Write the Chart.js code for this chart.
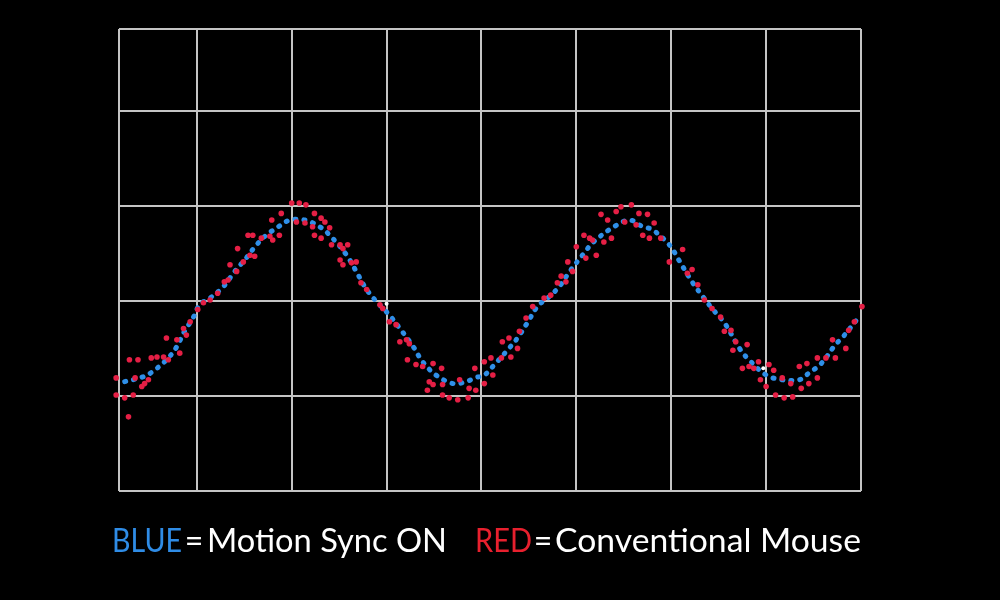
<!DOCTYPE html>
<html>
<head>
<meta charset="utf-8">
<script src="https://cdn.jsdelivr.net/npm/chart.js@4/dist/chart.umd.min.js"></script>
<style>
  html, body { margin: 0; padding: 0; background: #000; }
  #wrap { position: relative; width: 1000px; height: 600px; }
  .lg {
    position: absolute; top: 524px; height: 32px;
    font-family: 'Lato', sans-serif; font-size: 32px; line-height: 32px; color: #fff;
    white-space: nowrap; transform-origin: 0 0;
  }
  .lg.blue { color: #2f8ce6; }
  .lg.red { color: #e8202e; }
</style>
</head>
<body>
<div id="wrap">
  <canvas id="chart" width="1000" height="600"></canvas>
  <span class="lg blue" data-x0="112" data-x1="182">BLUE</span>
  <span class="lg eq" data-x0="188" data-x1="200">=</span>
  <span class="lg" data-x0="207" data-x1="447">Motion Sync ON</span>
  <span class="lg red" data-x0="475" data-x1="532">RED</span>
  <span class="lg eq" data-x0="538" data-x1="548">=</span>
  <span class="lg" data-x0="555" data-x1="861">Conventional Mouse</span>
</div>
<script>
// grid positions (one unit per grid cell; the plot starts/ends on partial cells)
const xGrid = [-0.82, 0, 1, 2, 3, 4, 5, 6, 7];
const yGrid = [0, 1, 2, 3, 4, 4.86];

// blue trace - Motion Sync ON
const blueX = [-0.76, -0.57, -0.46, -0.30, -0.21, -0.13, -0.04, 0.03, 0.14, 0.28, 0.40, 0.52, 0.63, 0.73, 0.86, 0.98,
  1.14, 1.31, 1.43, 1.58, 1.68, 1.77, 1.86, 2.03, 2.14, 2.28, 2.38, 2.52, 2.70, 2.84, 2.93, 3.03, 3.12, 3.29, 3.38,
  3.49, 3.59, 3.72, 3.82, 3.93, 4.08, 4.17, 4.38, 4.56, 4.70, 4.80, 4.98, 5.08, 5.22, 5.33, 5.43, 5.56, 5.72, 5.80,
  6.00, 6.17, 6.35, 6.45, 6.58, 6.73, 6.80, 6.98];
const blueY = [1.15, 1.20, 1.26, 1.40, 1.52, 1.68, 1.82, 1.96, 2.03, 2.15, 2.31, 2.45, 2.59, 2.69, 2.78, 2.85,
  2.85, 2.77, 2.66, 2.48, 2.31, 2.15, 2.03, 1.85, 1.71, 1.52, 1.36, 1.22, 1.13, 1.15, 1.19, 1.22, 1.31, 1.50, 1.61,
  1.78, 1.94, 2.05, 2.15, 2.31, 2.50, 2.61, 2.77, 2.85, 2.78, 2.75, 2.59, 2.43, 2.20, 2.05, 1.92, 1.77, 1.50, 1.40,
  1.22, 1.17, 1.17, 1.24, 1.34, 1.54, 1.61, 1.83];

// red samples - Conventional Mouse
const redX = [-0.85, -0.85, -0.76, -0.72, -0.67, -0.71, -0.62, -0.65, -0.58, -0.55, -0.51, -0.48, -0.42, -0.35, -0.30,
  -0.32, -0.21, -0.18, -0.11, -0.14, -0.07, 0.01, 0.07, 0.14, 0.22, 0.29, 0.33, 0.35, 0.42, 0.43, 0.49, 0.56, 0.61,
  0.54, 0.59, 0.68, 0.77, 0.80, 0.87, 0.79, 0.89, 1.00, 1.05, 1.08, 1.15, 1.14, 1.24, 1.31, 1.35, 1.22, 1.24, 1.31,
  1.40, 1.42, 1.51, 1.59, 1.54, 1.51, 1.54, 1.63, 1.68, 1.73, 1.79, 1.93, 1.96, 2.03, 2.10, 2.14, 2.21, 2.24, 2.22,
  2.31, 2.38, 2.49, 2.58, 2.45, 2.49, 2.43, 2.59, 2.59, 2.66, 2.75, 2.86, 2.77, 2.87, 2.93, 2.94,
  3.03, 3.03, 3.12, 3.10, 3.21, 3.22, 3.29, 3.31, 3.38, 3.40, 3.47, 3.54, 3.66, 3.73, 3.80, 3.84, 3.89, 3.91, 3.96,
  4.00, 4.08, 4.14, 4.10, 4.21, 4.17, 4.26, 4.33, 4.37, 4.42, 4.47, 4.58, 4.51, 4.63, 4.66, 4.75, 4.70, 4.77, 4.82,
  4.89, 4.98, 4.29, 5.12, 5.17, 5.22, 5.28, 5.35, 5.43, 5.52, 5.56, 5.63, 5.68, 5.65, 5.80, 5.75, 5.82, 5.87, 5.92,
  6.03, 6.08, 5.94, 6.00, 6.10, 6.19, 6.28, 6.17, 6.26, 6.37, 6.35, 6.43, 6.45, 6.54, 6.54, 6.63, 6.70, 6.73, 6.84,
  6.87, 6.93, 7.01, 7.07];
const redY = [1.19, 1.01, 0.98, 0.78, 1.01, 1.38, 1.38, 1.19, 1.10, 1.13, 1.17, 1.40, 1.41, 1.41, 1.38,
  1.61, 1.59, 1.45, 1.64, 1.71, 1.78, 1.91, 1.98, 2.01, 2.08, 2.20, 2.22, 2.38, 2.31, 2.55, 2.41, 2.48, 2.47,
  2.69, 2.69, 2.66, 2.68, 2.64, 2.69, 2.85, 2.92, 3.03, 2.83, 3.03, 3.01, 2.82, 2.92, 2.87, 2.83, 2.78, 2.69, 2.66,
  2.77, 2.59, 2.59, 2.59, 2.55, 2.43, 2.38, 2.40, 2.41, 2.19, 2.12, 1.96, 1.92, 1.78, 1.75, 1.57, 1.59, 1.55, 1.38,
  1.33, 1.31, 1.34, 1.29, 1.15, 1.12, 1.06, 1.12, 1.01, 0.98, 0.96, 0.98, 1.17, 1.08, 1.29, 1.06,
  1.36, 1.13, 1.22, 1.40, 1.40, 1.57, 1.61, 1.41, 1.50, 1.68, 1.82, 1.94, 2.03, 2.06, 2.19, 2.26, 2.20, 2.41, 2.31,
  2.57, 2.69, 2.66, 2.45, 2.48, 2.64, 2.91, 2.85, 2.66, 2.94, 2.99, 3.01, 2.83, 2.80, 2.92, 2.91, 2.69, 2.66, 2.82,
  2.66, 2.41, 2.62, 2.54, 2.29, 2.33, 2.17, 2.01, 1.92, 1.83, 1.68, 1.69, 1.57, 1.48, 1.54, 1.29, 1.31, 1.29, 1.36,
  1.33, 1.27, 1.17, 1.10, 1.01, 0.98, 0.99, 1.19, 1.13, 1.08, 1.31, 1.34, 1.13, 1.40, 1.19, 1.40, 1.59, 1.40, 1.50,
  1.69, 1.78, 1.94, 1.99];

// white cursor specks
const cursorX = [5.97, 2.00];
const cursorY = [1.29, 1.97];

const pts = (xs, ys) => xs.map((x, i) => ({ x: x, y: ys[i] }));

const gridStyle = { color: '#c4c4c4', lineWidth: 2, drawTicks: false };

new Chart(document.getElementById('chart'), {
  type: 'scatter',
  data: {
    datasets: [
      {
        label: 'cursor',
        data: pts(cursorX, cursorY),
        pointRadius: 2, pointBackgroundColor: '#ffffff', pointBorderWidth: 0
      },
      {
        label: 'Conventional Mouse',
        data: pts(redX, redY),
        pointRadius: 2.8, pointBackgroundColor: '#e51f45', pointBorderWidth: 0,
        clip: false
      },
      {
        label: 'Motion Sync ON',
        data: pts(blueX, blueY),
        showLine: true, pointRadius: 0, tension: 0.35,
        borderColor: '#2f8fe8', borderWidth: 5, borderDash: [1, 8], borderCapStyle: 'round'
      }
    ]
  },
  options: {
    responsive: false,
    devicePixelRatio: 1,
    animation: false,
    layout: { padding: { left: 119, right: 139, top: 29, bottom: 109 } },
    plugins: { legend: { display: false }, tooltip: { enabled: false } },
    scales: {
      x: {
        type: 'linear', min: xGrid[0], max: xGrid[xGrid.length - 1],
        afterBuildTicks: (s) => { s.ticks = xGrid.map(v => ({ value: v })); },
        ticks: { display: false },
        grid: gridStyle,
        border: { display: false }
      },
      y: {
        type: 'linear', min: yGrid[0], max: yGrid[yGrid.length - 1],
        afterBuildTicks: (s) => { s.ticks = yGrid.map(v => ({ value: v })); },
        ticks: { display: false },
        grid: gridStyle,
        border: { display: false }
      }
    }
  }
});

// fit each legend word into its span of the caption line; '=' keeps its own width, centred
document.querySelectorAll('.lg').forEach(el => {
  const x0 = +el.dataset.x0, x1 = +el.dataset.x1;
  const w = el.getBoundingClientRect().width;
  if (el.classList.contains('eq')) {
    el.style.left = ((x0 + x1) / 2 - w / 2) + 'px';
  } else {
    el.style.left = x0 + 'px';
    el.style.transform = 'scaleX(' + ((x1 - x0) / w) + ')';
  }
});
</script>
</body>
</html>
